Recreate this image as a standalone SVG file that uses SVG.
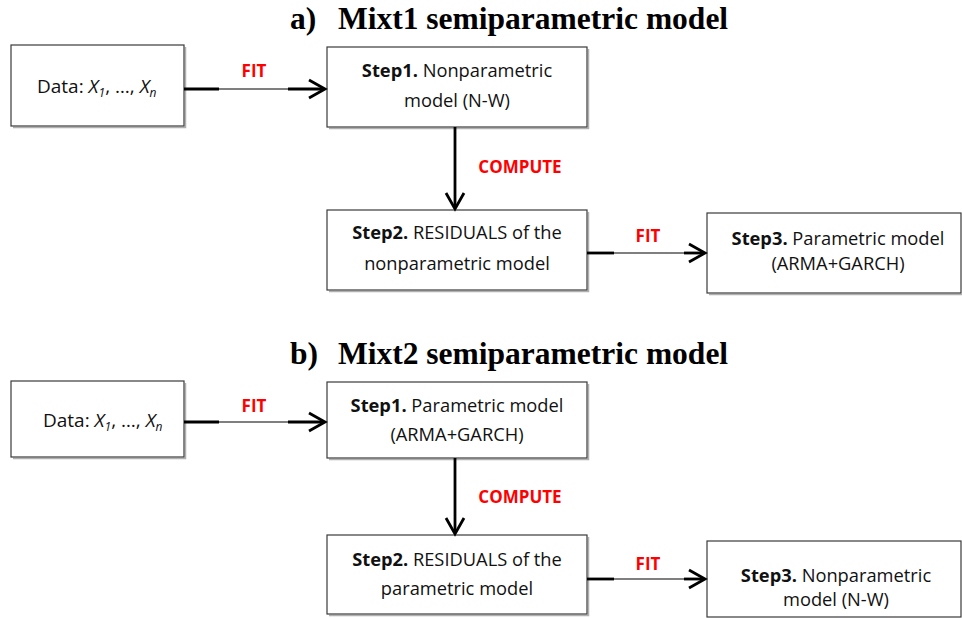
<svg xmlns="http://www.w3.org/2000/svg" width="962" height="618" viewBox="0 0 962 618">
<style>
.box{fill:#fff;stroke:#3a3a3a;stroke-width:1.2}
.shadow{fill:none;stroke:#b0b0b0;stroke-width:1.5}
.t{font-family:"Open Sans","Liberation Sans",sans-serif;font-size:18.3px;fill:#111}
.data{font-family:"Open Sans","Liberation Sans",sans-serif;font-size:19px;fill:#111}
.b{font-weight:bold}
.lbl{font-family:"Open Sans","Liberation Sans",sans-serif;font-size:17px;font-weight:bold;fill:#ff0000}
.title{font-family:"Liberation Serif","Times New Roman",serif;font-size:31.5px;font-weight:bold;fill:#000}
.thin{stroke:#000;stroke-width:1.2;fill:none}
.thick{stroke:#000;stroke-width:2.8;fill:none}
.head{stroke:#000;stroke-width:2.8;fill:none;stroke-linejoin:miter}
</style>

<g id="title-a">
<text class="title" x="290" y="29">a)</text>
<text class="title" x="338" y="29">Mixt1 semiparametric model</text>
</g>
<g id="title-b">
<text class="title" x="290" y="364">b)</text>
<text class="title" x="338" y="364">Mixt2 semiparametric model</text>
</g>

<!-- Part a nodes -->
<g id="a-data">
<path class="shadow" d="M185.5,47 V127.5 H13"/>
<rect class="box" x="11" y="45" width="173" height="81"/>
<text class="data" x="37" y="93">Data: <tspan font-style="italic">X</tspan><tspan font-style="italic" font-size="12" dy="4">1</tspan><tspan dy="-4">, …, </tspan><tspan font-style="italic">X</tspan><tspan font-style="italic" font-size="12" dy="4">n</tspan></text>
</g>
<g id="a-step1">
<path class="shadow" d="M588.5,49 V128.5 H329"/>
<rect class="box" x="327" y="47" width="260" height="80"/>
<text class="t" x="457" y="77" text-anchor="middle"><tspan class="b">Step1.</tspan> Nonparametric</text>
<text class="t" x="457" y="107" text-anchor="middle">model (N-W)</text>
</g>
<g id="a-step2">
<path class="shadow" d="M588.5,212 V291.5 H329"/>
<rect class="box" x="327" y="210" width="260" height="80"/>
<text class="t" x="457" y="239" text-anchor="middle"><tspan class="b">Step2.</tspan> RESIDUALS of the</text>
<text class="t" x="457" y="270" text-anchor="middle">nonparametric model</text>
</g>
<g id="a-step3">
<path class="shadow" d="M709,294.5 H962"/>
<rect class="box" x="707" y="213" width="254" height="80"/>
<text class="t" x="838" y="245" text-anchor="middle"><tspan class="b">Step3.</tspan> Parametric model</text>
<text class="t" x="838" y="270" text-anchor="middle">(ARMA+GARCH)</text>
</g>

<!-- Part b nodes -->
<g id="b-data">
<path class="shadow" d="M185.5,383 V458.5 H13"/>
<rect class="box" x="11" y="381" width="173" height="76"/>
<text class="data" x="43" y="427">Data: <tspan font-style="italic">X</tspan><tspan font-style="italic" font-size="12" dy="4">1</tspan><tspan dy="-4">, …, </tspan><tspan font-style="italic">X</tspan><tspan font-style="italic" font-size="12" dy="4">n</tspan></text>
</g>
<g id="b-step1">
<path class="shadow" d="M588.5,384 V459.5 H329"/>
<rect class="box" x="327" y="382" width="260" height="76"/>
<text class="t" x="457" y="412" text-anchor="middle"><tspan class="b">Step1.</tspan> Parametric model</text>
<text class="t" x="457" y="441" text-anchor="middle">(ARMA+GARCH)</text>
</g>
<g id="b-step2">
<path class="shadow" d="M588.5,537 V615.5 H329"/>
<rect class="box" x="327" y="535" width="260" height="79"/>
<text class="t" x="457" y="566" text-anchor="middle"><tspan class="b">Step2.</tspan> RESIDUALS of the</text>
<text class="t" x="457" y="595" text-anchor="middle">parametric model</text>
</g>
<g id="b-step3">
<rect class="box" x="707" y="541" width="254" height="76"/>
<text class="t" x="836" y="582" text-anchor="middle"><tspan class="b">Step3.</tspan> Nonparametric</text>
<text class="t" x="836" y="606" text-anchor="middle">model (N-W)</text>
</g>

<!-- Connectors -->
<g id="connectors">
<line class="thin" x1="184" y1="89" x2="326" y2="89"/>
<line class="thick" x1="184" y1="89" x2="219" y2="89"/>
<line class="thick" x1="288" y1="89" x2="324" y2="89"/>
<path class="head" d="M309,80 L325,89 L309,98"/>
<text class="lbl" x="254" y="77" text-anchor="middle">FIT</text>

<line class="thick" x1="455" y1="127" x2="455" y2="208"/>
<path class="head" d="M446,193 L455,209 L464,193"/>
<text class="lbl" x="520" y="173" text-anchor="middle">COMPUTE</text>

<line class="thin" x1="587" y1="253" x2="706" y2="253"/>
<line class="thick" x1="587" y1="253" x2="614" y2="253"/>
<line class="thick" x1="684" y1="253" x2="704" y2="253"/>
<path class="head" d="M689,244 L705,253 L689,262"/>
<text class="lbl" x="648" y="242" text-anchor="middle">FIT</text>

<line class="thin" x1="184" y1="422" x2="326" y2="422"/>
<line class="thick" x1="184" y1="422" x2="219" y2="422"/>
<line class="thick" x1="288" y1="422" x2="324" y2="422"/>
<path class="head" d="M309,413 L325,422 L309,431"/>
<text class="lbl" x="254" y="412" text-anchor="middle">FIT</text>

<line class="thick" x1="455" y1="458" x2="455" y2="533"/>
<path class="head" d="M446,518 L455,534 L464,518"/>
<text class="lbl" x="520" y="503" text-anchor="middle">COMPUTE</text>

<line class="thin" x1="587" y1="579" x2="706" y2="579"/>
<line class="thick" x1="587" y1="579" x2="614" y2="579"/>
<line class="thick" x1="684" y1="579" x2="704" y2="579"/>
<path class="head" d="M689,570 L705,579 L689,588"/>
<text class="lbl" x="648" y="570" text-anchor="middle">FIT</text>
</g>
</svg>
